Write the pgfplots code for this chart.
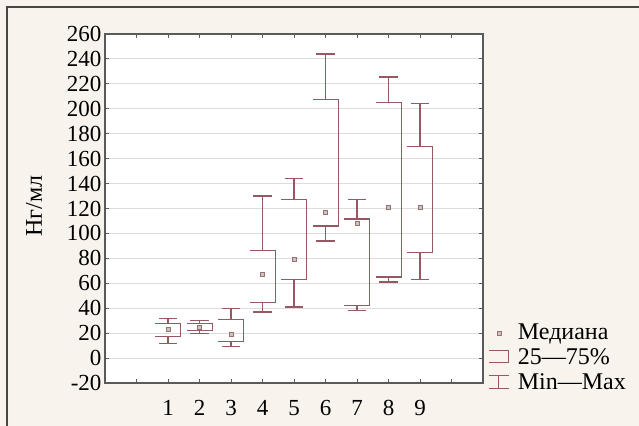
\documentclass[border=0pt]{standalone}
\usepackage{fontspec}
\setmainfont{Liberation Serif}
\usepackage{pgfplots}
\pgfplotsset{compat=1.18}
\definecolor{bgcol}{RGB}{248,244,237}
\definecolor{framecol}{RGB}{70,70,70}
\definecolor{axcol}{RGB}{90,90,90}
\definecolor{gridcol}{RGB}{220,220,220}
\definecolor{boxcol}{RGB}{150,88,98}
\definecolor{medcol}{RGB}{150,115,115}
\begin{document}
\begin{tikzpicture}
\path[use as bounding box] (0,0) rectangle (639bp,-426bp);
\fill[bgcol] (0,0) rectangle (639bp,-426bp);
\draw[framecol, line width=1.5bp] (7bp,-426bp) -- (7bp,-7bp) -- (639bp,-7bp);
\node[rotate=90, font=\fontsize{24bp}{28bp}\selectfont] at (34bp,-206bp) {Нг/мл};
\begin{axis}[
  at={(105bp,-383bp)}, anchor=south west,
  scale only axis, width=378bp, height=349bp,
  xmin=-1, xmax=11, ymin=-20, ymax=260,
  xtick={0,...,10}, xticklabels={,1,2,3,4,5,6,7,8,9,},
  ytick={-20,0,20,...,260},
  tick align=inside, tick pos=both, major tick length=4bp,
  axis line style={axcol, line width=1.3bp},
  tick style={axcol, line width=1bp},
  ymajorgrids, grid style={gridcol, line width=0.9bp},
  axis background/.style={fill=white},
  /pgf/number format/assume math mode=true,
  ticklabel style={font=\fontsize{23bp}{27bp}\selectfont},
  xticklabel style={yshift=-14bp},
  unbounded coords=jump,
  legend style={draw=none, fill=none, inner sep=0pt, at={(rel axis cs:1,0)}, anchor=south west,
    xshift=5bp, yshift=-13bp, row sep=0bp,
    font=\fontsize{24bp}{28bp}\selectfont,
    nodes={inner sep=1.5bp, text height=17bp, text depth=5bp},
    /tikz/every odd column/.append style={column sep=7bp}},
  legend cell align=left,
]
% boxes (25-75%), open on the left
\addplot[forget plot, boxcol, line width=1.2bp] coordinates {
 (0.6,28) (1.4,28) (1.4,17) (0.6,17) (0,nan)
 (1.6,28) (2.4,28) (2.4,22) (1.6,22) (0,nan)
 (2.6,31) (3.4,31) (3.4,13) (2.6,13) (0,nan)
 (3.6,86) (4.4,86) (4.4,44.5) (3.6,44.5) (0,nan)
 (4.6,127.5) (5.4,127.5) (5.4,63) (4.6,63) (0,nan)
 (5.6,207.5) (6.4,207.5) (6.4,106) (5.6,106) (0,nan)
 (6.6,111.5) (7.4,111.5) (7.4,42) (6.6,42) (0,nan)
 (7.6,205) (8.4,205) (8.4,65) (7.6,65) (0,nan)
 (8.6,170) (9.4,170) (9.4,84.5) (8.6,84.5)
};
% whiskers (min-max) with caps
\addplot[forget plot, boxcol, line width=1.2bp] coordinates {
 (1,28) (1,32) (0,nan) (0.7,32) (1.3,32) (0,nan) (1,17) (1,12) (0,nan) (0.7,12) (1.3,12) (0,nan)
 (2,28) (2,30) (0,nan) (1.7,30) (2.3,30) (0,nan) (2,22) (2,20) (0,nan) (1.7,20) (2.3,20) (0,nan)
 (3,31) (3,40) (0,nan) (2.7,40) (3.3,40) (0,nan) (3,13) (3,9) (0,nan) (2.7,9) (3.3,9) (0,nan)
 (4,86) (4,130) (0,nan) (3.7,130) (4.3,130) (0,nan) (4,44.5) (4,37) (0,nan) (3.7,37) (4.3,37) (0,nan)
 (5,127.5) (5,144) (0,nan) (4.7,144) (5.3,144) (0,nan) (5,63) (5,41) (0,nan) (4.7,41) (5.3,41) (0,nan)
 (6,207.5) (6,244) (0,nan) (5.7,244) (6.3,244) (0,nan) (6,106) (6,94) (0,nan) (5.7,94) (6.3,94) (0,nan)
 (7,111.5) (7,127) (0,nan) (6.7,127) (7.3,127) (0,nan) (7,42) (7,38) (0,nan) (6.7,38) (7.3,38) (0,nan)
 (8,205) (8,225.5) (0,nan) (7.7,225.5) (8.3,225.5) (0,nan) (8,65) (8,61) (0,nan) (7.7,61) (8.3,61) (0,nan)
 (9,170) (9,204.5) (0,nan) (8.7,204.5) (9.3,204.5) (0,nan) (9,84.5) (9,63) (0,nan) (8.7,63) (9.3,63)
};
% medians
\addplot[forget plot, only marks, mark=square*, mark size=2bp,
  mark options={draw=medcol, fill=medcol!45, line width=0.6bp}] coordinates {
 (1,23) (2,25) (3,19) (4,67) (5,79) (6,117) (7,108) (8,121) (9,121)
};
\addlegendimage{legend image code/.code={\draw[medcol, fill=medcol!45, line width=0.6bp] (8bp,-2bp) rectangle (12bp,2bp);}}
\addlegendentry{Медиана}
\addlegendimage{legend image code/.code={\draw[boxcol, line width=1.2bp] (0,8bp) -- (20bp,8bp) -- (20bp,-4bp) -- (0,-4bp);}}
\addlegendentry{25—75\%}
\addlegendimage{legend image code/.code={\draw[boxcol, line width=1.2bp] (0,8bp) -- (20bp,8bp) (10bp,8bp) -- (10bp,-5bp) (0,-5bp) -- (20bp,-5bp);}}
\addlegendentry{Min—Max}
\end{axis}
\end{tikzpicture}
\end{document}
